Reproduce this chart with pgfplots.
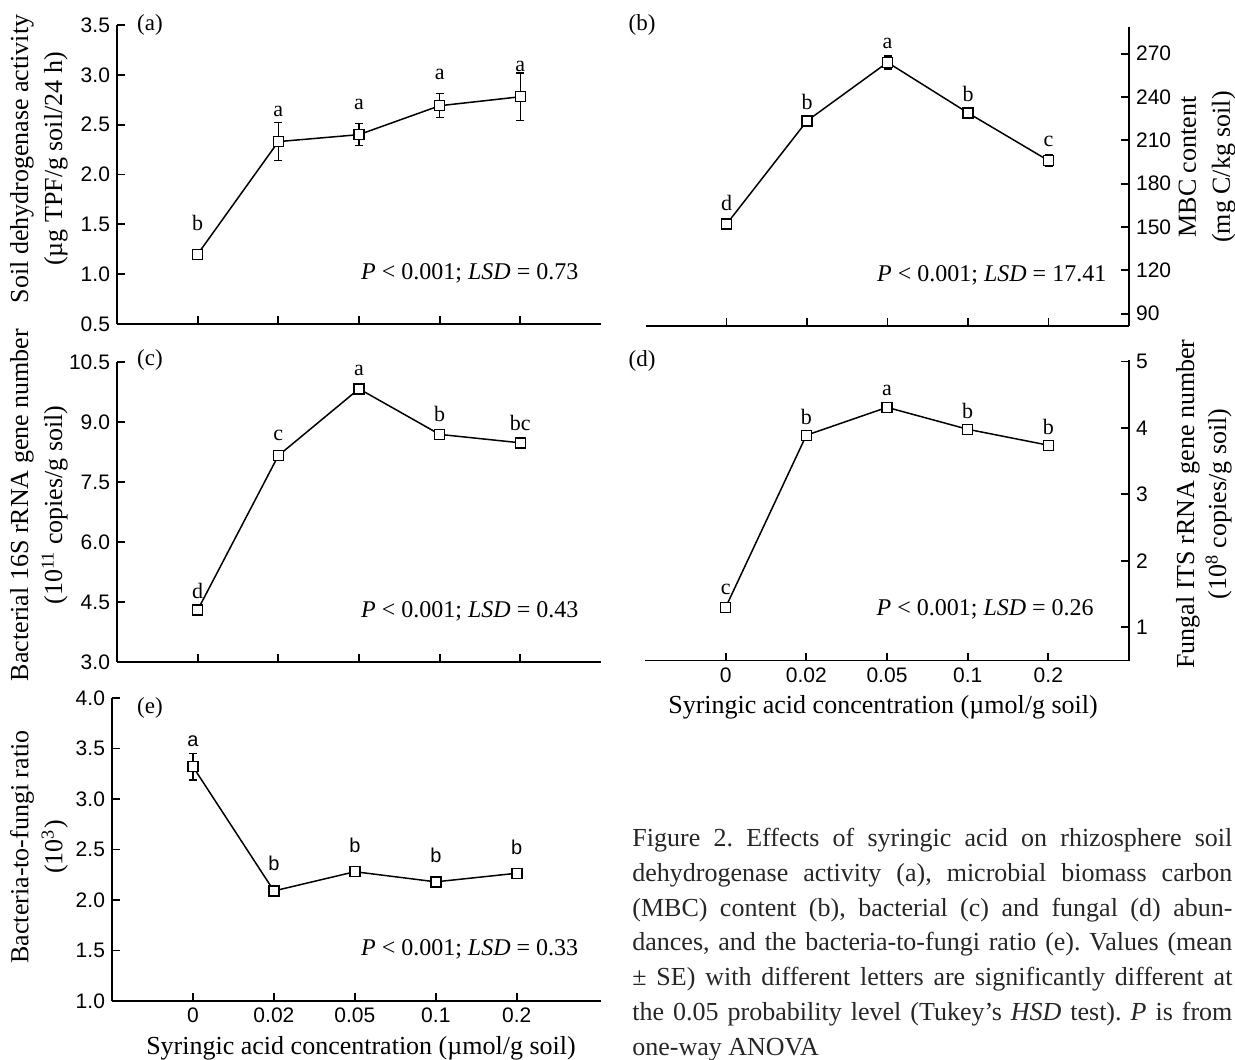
\documentclass[border=0pt]{standalone}
\usepackage{fontspec}
\setmainfont{Liberation Serif}
\setsansfont{Liberation Sans}
\usepackage{pgfplots}
\pgfplotsset{compat=1.18}
\frenchspacing

\pgfplotsset{
  panel/.style={
    scale only axis, anchor=south west,
    xmin=-1, xmax=5, xtick={0,...,4},
    tick align=inside, major tick length=4pt,
    axis line style={line width=0.9pt},
    tick style={line width=0.9pt, black},
    ticklabel style={font=\fontsize{10.5}{12}\selectfont\sffamily},
    /pgf/number format/assume math mode=true,
    clip=false,
  },
  leftpanel/.style={panel, axis x line*=bottom, axis y line*=left},
  rightpanel/.style={panel, axis x line*=bottom, axis y line*=right},
  onedec/.style={yticklabel style={/pgf/number format/.cd, fixed, fixed zerofill, precision=1}},
  series/.style={black, line width=0.75pt, mark=square*, mark size=2.5pt,
    mark options={fill=white, line width=0.7pt, solid},
    error bars/y dir=both, error bars/y explicit,
    error bars/error bar style={line width=0.7pt},
    error bars/error mark options={rotate=90, mark size=2pt, line width=0.7pt}},
}
\tikzset{stat/.style={anchor=west, font=\fontsize{12}{14}\selectfont}}
\newcommand\lt[3]{\node[font=\fontsize{11}{12}\selectfont] at (axis cs:#1,#2) {#3};}
\newcommand\ls[3]{\node[font=\fontsize{10}{12}\selectfont\sffamily] at (axis cs:#1,#2) {#3};}

\begin{document}
\begin{tikzpicture}
\useasboundingbox (0,0) rectangle (617.5pt,-529.5pt);

% (a)
\begin{axis}[leftpanel, onedec, at={(58.5pt,-162pt)}, width=242pt, height=149.5pt,
  ymin=0.5, ymax=3.5, ytick={0.5,1,...,3.5}, xticklabels={}]
\addplot[series] coordinates {(0,1.20) +- (0,0.02) (1,2.33) +- (0,0.19) (2,2.40) +- (0,0.11) (3,2.69) +- (0,0.12) (4,2.78) +- (0,0.24)};
\lt{0}{1.51}{b}\lt{1}{2.63}{a}\lt{2}{2.70}{a}\lt{3}{3.00}{a}\lt{4}{3.08}{a}
\node[stat] at (rel axis cs:0.49,0.17) {\textit{P} < 0.001; \textit{LSD} = 0.73};
\end{axis}

% (b)
\begin{axis}[rightpanel, at={(323pt,-163pt)}, width=241.5pt, height=149.5pt,
  ymin=81.5, ymax=288.5, ytick={90,120,...,270}, xticklabels={}]
\addplot[series] coordinates {(0,152) +- (0,2.5) (1,223.5) +- (0,2) (2,264) +- (0,4.5) (3,229) +- (0,2) (4,196) +- (0,4)};
\lt{0}{166.7}{d}\lt{1}{236.5}{b}\lt{2}{277}{a}\lt{3}{242.3}{b}\lt{4}{209.3}{c}
\node[stat] at (rel axis cs:0.464,0.17) {\textit{P} < 0.001; \textit{LSD} = 17.41};
\end{axis}

% (c)
\begin{axis}[leftpanel, onedec, at={(58.5pt,-331pt)}, width=242pt, height=150pt,
  ymin=3, ymax=10.5, ytick={3,4.5,...,10.5}, xticklabels={}]
\addplot[series] coordinates {(0,4.30) +- (0,0.05) (1,8.16) +- (0,0.07) (2,9.83) +- (0,0.07) (3,8.69) +- (0,0.05) (4,8.48) +- (0,0.07)};
\lt{0}{4.77}{d}\lt{1}{8.66}{c}\lt{2}{10.28}{a}\lt{3}{9.21}{b}\lt{4}{8.97}{bc}
\node[stat] at (rel axis cs:0.49,0.17) {\textit{P} < 0.001; \textit{LSD} = 0.43};
\end{axis}

% (d)
\begin{axis}[rightpanel, at={(322.5pt,-330.25pt)}, width=242pt, height=150.5pt,
  ymin=0.5, ymax=5.03, ytick={1,...,5}, xticklabels={0,0.02,0.05,0.1,0.2}]
\addplot[series] coordinates {(0,1.30) +- (0,0.04) (1,3.89) +- (0,0.03) (2,4.31) +- (0,0.03) (3,3.98) +- (0,0.03) (4,3.74) +- (0,0.04)};
\lt{0}{1.57}{c}\lt{1}{4.16}{b}\lt{2}{4.56}{a}\lt{3}{4.26}{b}\lt{4}{4.01}{b}
\node[stat] at (rel axis cs:0.464,0.17) {\textit{P} < 0.001; \textit{LSD} = 0.26};
\end{axis}

% (e)
\begin{axis}[leftpanel, onedec, at={(56pt,-500.5pt)}, width=244.5pt, height=151.5pt,
  xmax=5.04, ymin=1, ymax=4, ytick={1,1.5,...,4}, xticklabels={0,0.02,0.05,0.1,0.2}]
\addplot[series] coordinates {(0,3.32) +- (0,0.13) (1,2.09) +- (0,0.03) (2,2.28) +- (0,0.05) (3,2.18) +- (0,0.05) (4,2.265) +- (0,0.025)};
\ls{0}{3.57}{a}\ls{1}{2.36}{b}\ls{2}{2.54}{b}\ls{3}{2.44}{b}\ls{4}{2.52}{b}
\node[stat] at (rel axis cs:0.495,0.17) {\textit{P} < 0.001; \textit{LSD} = 0.33};
\end{axis}

% axis titles
\begin{scope}[every node/.style={align=center, rotate=90, font=\fontsize{13}{17}\selectfont, inner sep=0pt}]
\node at (19.5pt,-79.5pt) {Soil dehydrogenase activity\\(µg TPF/g soil/24 h)};
\node at (19.5pt,-252.5pt) {Bacterial 16S rRNA gene number\\(10\textsuperscript{11} copies/g soil)};
\node at (19.5pt,-423.5pt) {Bacteria-to-fungi ratio\\(10\textsuperscript{3})};
\node at (603.5pt,-83.5pt) {MBC content\\(mg C/kg soil)};
\node[font=\fontsize{13}{16}\selectfont] at (602pt,-252pt) {Fungal ITS rRNA gene number\\(10\textsuperscript{8} copies/g soil)};
\end{scope}
\begin{scope}[every node/.style={font=\fontsize{13}{15}\selectfont, inner sep=0pt}]
\node at (441.5pt,-353.5pt) {Syringic acid concentration (µmol/g soil)};
\node at (180.5pt,-524pt) {Syringic acid concentration (µmol/g soil)};
\end{scope}
\begin{scope}[every node/.style={font=\fontsize{11.5}{13}\selectfont, inner sep=0pt}]
\node at (75pt,-12.5pt) {(a)};
\node at (321pt,-12.5pt) {(b)};
\node at (75pt,-180pt) {(c)};
\node at (321pt,-180.5pt) {(d)};
\node at (75pt,-354pt) {(e)};
\end{scope}

% caption (base anchor = baseline of the last line)
\node[anchor=base west, align=left, inner sep=0pt, text=black!85,
  font=\fontsize{13}{17.35}\selectfont] at (316pt,-527.5pt) {%
\makebox[300pt][s]{Figure 2. Effects of syringic acid on rhizosphere soil}\\
\makebox[300pt][s]{dehydrogenase activity (a), microbial biomass carbon}\\
\makebox[300pt][s]{(MBC) content (b), bacterial (c) and fungal (d) abun-}\\
\makebox[300pt][s]{dances, and the bacteria-to-fungi ratio (e). Values (mean}\\
\makebox[300pt][s]{± SE) with different letters are significantly different at}\\
\makebox[300pt][s]{the 0.05 probability level (Tukey’s \textit{HSD} test). \textit{P} is from}\\
one-way ANOVA};
\end{tikzpicture}
\end{document}
